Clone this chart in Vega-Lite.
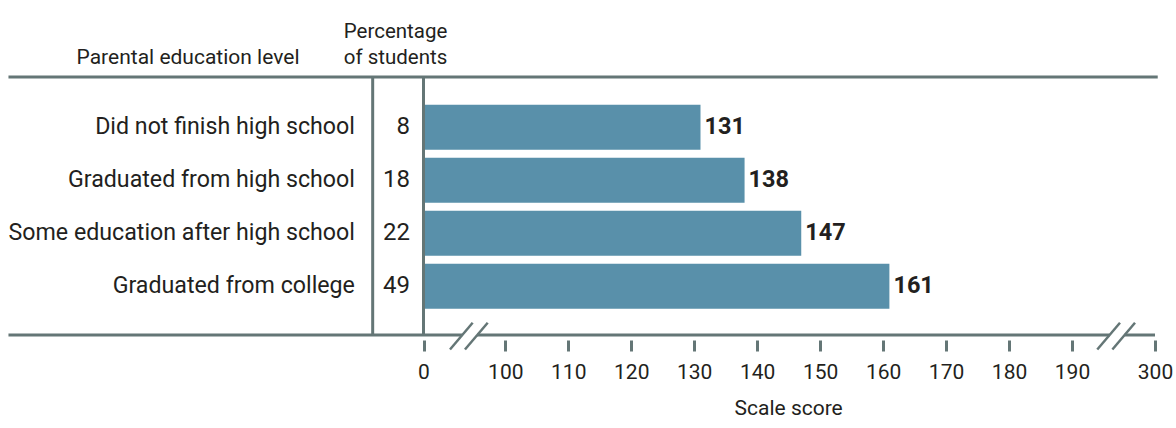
{
  "$schema": "https://vega.github.io/schema/vega-lite/v6.json",
  "width": 1176,
  "height": 268,
  "autosize": {"type": "none"},
  "padding": {"top": 72, "bottom": 88, "left": 0, "right": 0},
  "background": "white",
  "config": {
    "view": {"stroke": null},
    "text": {"font": "Roboto", "color": "#231F20"},
    "rule": {"color": "#647676", "strokeWidth": 3, "strokeCap": "butt"}
  },
  "resolve": {"axis": {"x": "independent", "y": "independent"}},
  "datasets": {
    "scores": [
      {"level": "Did not finish high school", "pct": 8, "score": 131, "rank": 1},
      {"level": "Graduated from high school", "pct": 18, "score": 138, "rank": 2},
      {"level": "Some education after high school", "pct": 22, "score": 147, "rank": 3},
      {"level": "Graduated from college", "pct": 49, "score": 161, "rank": 4}
    ]
  },
  "data": {"name": "scores"},
  "layer": [
    {
      "mark": {"type": "bar", "size": 45, "color": "#5990AA"},
      "encoding": {
        "x": {
          "field": "score",
          "type": "quantitative",
          "scale": {"domain": [-50, 0, 100, 190, 300, 310], "range": [0, 423.5, 505.3, 1072, 1155, 1176], "zero": false, "nice": false},
          "axis": {
            "values": [0, 100, 110, 120, 130, 140, 150, 160, 170, 180, 190, 300],
            "title": null,
            "domain": false,
            "grid": false,
            "tickSize": 11,
            "tickWidth": 3,
            "tickColor": "#647676",
            "labelFont": "Roboto",
            "labelFontSize": 21,
            "labelColor": "#231F20",
            "labelPadding": 10,
            "labelFlush": false,
            "labelOverlap": false,
            "labelBound": false
          }
        },
        "x2": {"datum": 0},
        "y": {
          "field": "rank",
          "type": "quantitative",
          "scale": {"domain": [0.05, 4.92], "range": [0, 268], "zero": false, "nice": false},
          "axis": null
        }
      }
    },
    {
      "data": {"values": [{}]},
      "mark": {"type": "rule"},
      "encoding": {"x": {"datum": -49, "axis": null}, "x2": {"datum": 301.3}, "y": {"datum": 0.05, "axis": null}}
    },
    {
      "data": {"values": [{}]},
      "mark": {"type": "rule"},
      "encoding": {"x": {"datum": -49, "axis": null}, "x2": {"datum": 47.3}, "y": {"datum": 4.92, "axis": null}}
    },
    {
      "data": {"values": [{}]},
      "mark": {"type": "rule"},
      "encoding": {"x": {"datum": 65.4, "axis": null}, "x2": {"datum": 239.7}, "y": {"datum": 4.92, "axis": null}}
    },
    {
      "data": {"values": [{}]},
      "mark": {"type": "rule"},
      "encoding": {"x": {"datum": 259.6, "axis": null}, "x2": {"datum": 300}, "y": {"datum": 4.92, "axis": null}}
    },
    {
      "data": {"values": [{}]},
      "mark": {"type": "rule"},
      "encoding": {"x": {"datum": -6, "axis": null}, "y": {"datum": 0.05, "axis": null}, "y2": {"datum": 4.92}}
    },
    {
      "data": {"values": [{}]},
      "mark": {"type": "rule"},
      "encoding": {"x": {"datum": 0, "axis": null}, "y": {"datum": 0.05, "axis": null}, "y2": {"datum": 4.92}}
    },
    {
      "data": {"values": [{}]},
      "mark": {"type": "rule", "strokeWidth": 2.5},
      "encoding": {"x": {"datum": 32.4, "axis": null}, "x2": {"datum": 60.1}, "y": {"datum": 5.193, "axis": null}, "y2": {"datum": 4.689}}
    },
    {
      "data": {"values": [{}]},
      "mark": {"type": "rule", "strokeWidth": 2.5},
      "encoding": {"x": {"datum": 50.7, "axis": null}, "x2": {"datum": 78.5}, "y": {"datum": 5.193, "axis": null}, "y2": {"datum": 4.689}}
    },
    {
      "data": {"values": [{}]},
      "mark": {"type": "rule", "strokeWidth": 2.5},
      "encoding": {"x": {"datum": 223.5, "axis": null}, "x2": {"datum": 253.6}, "y": {"datum": 5.193, "axis": null}, "y2": {"datum": 4.689}}
    },
    {
      "data": {"values": [{}]},
      "mark": {"type": "rule", "strokeWidth": 2.5},
      "encoding": {"x": {"datum": 243.5, "axis": null}, "x2": {"datum": 273.5}, "y": {"datum": 5.193, "axis": null}, "y2": {"datum": 4.689}}
    },
    {
      "mark": {"type": "text", "align": "right", "baseline": "middle", "fontSize": 23.2},
      "encoding": {
        "x": {"datum": -8.1, "axis": null},
        "y": {"field": "rank", "type": "quantitative", "axis": null},
        "text": {"field": "level"}
      }
    },
    {
      "mark": {"type": "text", "align": "right", "baseline": "middle", "fontSize": 24},
      "encoding": {
        "x": {"datum": -1.6, "axis": null},
        "y": {"field": "rank", "type": "quantitative", "axis": null},
        "text": {"field": "pct"}
      }
    },
    {
      "mark": {"type": "text", "align": "left", "baseline": "middle", "dx": 4, "fontSize": 23.5, "fontWeight": "bold"},
      "encoding": {
        "x": {"field": "score", "type": "quantitative", "axis": null},
        "y": {"field": "rank", "type": "quantitative", "axis": null},
        "text": {"field": "score"}
      }
    },
    {
      "data": {"values": [{}]},
      "mark": {"type": "text", "align": "center", "baseline": "alphabetic", "fontSize": 21, "text": "Parental education level"},
      "encoding": {"x": {"datum": -27.8, "axis": null}, "y": {"datum": -0.204, "axis": null}}
    },
    {
      "data": {"values": [{}]},
      "mark": {"type": "text", "align": "center", "baseline": "alphabetic", "fontSize": 20.5, "text": "Percentage"},
      "encoding": {"x": {"datum": -3.3, "axis": null}, "y": {"datum": -0.682, "axis": null}}
    },
    {
      "data": {"values": [{}]},
      "mark": {"type": "text", "align": "center", "baseline": "alphabetic", "fontSize": 20.5, "text": "of students"},
      "encoding": {"x": {"datum": -3.3, "axis": null}, "y": {"datum": -0.204, "axis": null}}
    },
    {
      "data": {"values": [{}]},
      "mark": {"type": "text", "align": "center", "baseline": "alphabetic", "fontSize": 21, "text": "Scale score"},
      "encoding": {"x": {"datum": 145, "axis": null}, "y": {"datum": 6.428, "axis": null}}
    }
  ]
}
